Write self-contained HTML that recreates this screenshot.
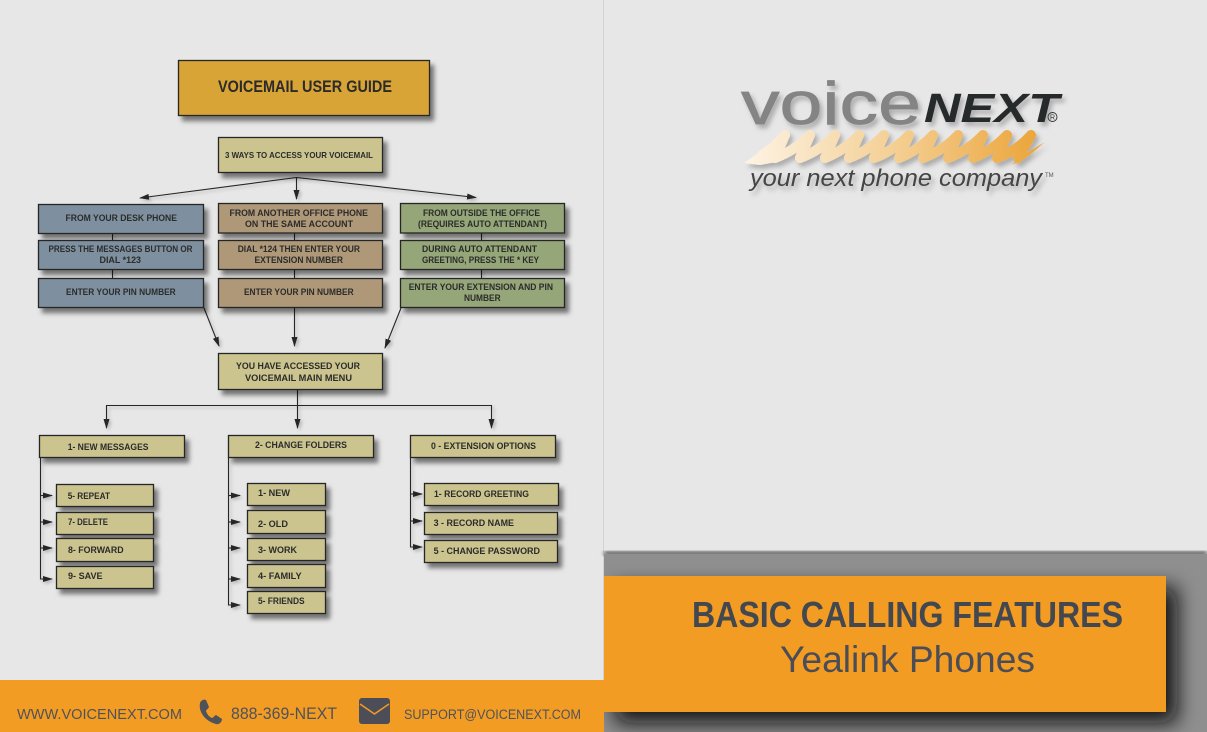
<!DOCTYPE html>
<html><head><meta charset="utf-8"><style>
html,body{margin:0;padding:0;background:#e7e7e7}
svg{display:block}
text{font-family:"Liberation Sans",sans-serif}
.t text{font-weight:bold;font-size:9px;fill:#2b2b2b;stroke:none}
.b rect{stroke:#262626;stroke-width:1.3}
</style></head><body>
<svg width="1207" height="732" viewBox="0 0 1207 732" xmlns="http://www.w3.org/2000/svg">
<defs>
<filter id="s" x="-20%" y="-30%" width="150%" height="180%"><feDropShadow dx="4" dy="5" stdDeviation="2.500" flood-color="#000" flood-opacity=".5"/></filter>
<filter id="l" x="-20%" y="-20%" width="140%" height="140%"><feDropShadow dx="2" dy="2" stdDeviation="1.500" flood-color="#000" flood-opacity=".22"/></filter>
<filter id="big" x="-15%" y="-30%" width="135%" height="170%"><feDropShadow dx="11" dy="11" stdDeviation="10" flood-color="#0c0c0c" flood-opacity=".95"/></filter>
<filter id="logo" x="-10%" y="-20%" width="125%" height="150%"><feDropShadow dx="3" dy="4" stdDeviation="2.500" flood-color="#000" flood-opacity=".25"/></filter>
<filter id="bl"><feGaussianBlur stdDeviation="2"/></filter>
<linearGradient id="w" gradientUnits="userSpaceOnUse" x1="745" y1="0" x2="1045" y2="0"><stop offset="0" stop-color="#fdf3e4"/><stop offset=".5" stop-color="#f4cf93"/><stop offset="1" stop-color="#eba336"/></linearGradient>
<marker id="a" markerWidth="10" markerHeight="6" refX="9" refY="3" orient="auto" markerUnits="userSpaceOnUse"><path d="M0 0L10 3L0 6Z" fill="#262626"/></marker>
</defs>

<rect width="1207" height="732" fill="#e7e7e7"/>
<rect x="603" y="0" width="1" height="680" fill="#d2d2d2"/>

<!-- right band -->
<rect x="604" y="551" width="603" height="5" fill="#5c5c5c" filter="url(#bl)"/>
<rect x="604" y="554" width="603" height="178" fill="#908f90"/>
<svg x="604" y="554" width="603" height="178"><rect x="0" y="22" width="562" height="136" fill="#f29c24" filter="url(#big)"/></svg>
<rect x="604" y="576" width="562" height="136" fill="#f29c24"/>
<text x="692" y="627" font-size="36" font-weight="bold" fill="#43474f" textLength="431" lengthAdjust="spacingAndGlyphs">BASIC CALLING FEATURES</text>
<text x="780" y="672" font-size="37" fill="#4a4d55" textLength="255" lengthAdjust="spacingAndGlyphs">Yealink Phones</text>

<!-- footer -->
<rect x="0" y="680" width="604" height="52" fill="#f29c24"/>
<text x="17" y="719" font-size="15" fill="#50525a" textLength="165" lengthAdjust="spacingAndGlyphs">WWW.VOICENEXT.COM</text>
<path d="M200 703 C201 700 204 699 206 700 L209 707 C208 709 206 710 206 711 C207 714 209 717 212 718 C213 718 214 716 216 715 L222 719 C222 722 219 725 216 724 C207 722 198 713 200 703Z" fill="#50525a"/>
<text x="231" y="719" font-size="17" fill="#50525a" textLength="106" lengthAdjust="spacingAndGlyphs">888-369-NEXT</text>
<rect x="359" y="698" width="31" height="26" rx="3" fill="#4c4d57"/>
<path d="M360 704L374.500 714L389 704" fill="none" stroke="#f29c24" stroke-width="1.500"/>
<text x="404" y="719" font-size="13.500" fill="#50525a" textLength="177" lengthAdjust="spacingAndGlyphs">SUPPORT@VOICENEXT.COM</text>

<!-- logo -->
<g filter="url(#logo)">
<text x="741" y="124" font-size="60" fill="#848484" stroke="#848484" stroke-width=".7" textLength="180" lengthAdjust="spacingAndGlyphs">voice</text>
<text x="924" y="122" font-size="41" font-weight="bold" font-style="italic" fill="#262a2a" textLength="135" lengthAdjust="spacingAndGlyphs">NEXT</text>
<g fill="url(#w)">
<path d="M744 163 L772 143 L776 162 L760 165 Z"/>
<path d="M1018 158 L1045 142 L1026 158 L1012 165 Z"/>
</g>
<path d="M762 155 Q776 146 785 135 L775 158 Q796 150 810 135 L800 158 Q821 150 835 135 L825 158 Q845 150 859 135 L849 158 Q870 150 884 135 L874 158 Q895 150 909 135 L899 158 Q919 150 933 135 L923 158 Q944 150 958 135 L948 158 Q969 150 983 135 L973 158 Q993 150 1007 135 L997 158 Q1018 150 1031 135 L1018 158" fill="none" stroke="url(#w)" stroke-width="10" stroke-linejoin="round" stroke-linecap="round"/>
</g>
<text x="750" y="186" font-size="24" font-style="italic" fill="#444" textLength="292" lengthAdjust="spacingAndGlyphs" filter="url(#logo)">your next phone company</text>
<text x="1045" y="177" font-size="6" fill="#555">TM</text>
<circle cx="1052.500" cy="117" r="4.500" fill="none" stroke="#333" stroke-width=".9"/>
<text x="1050" y="119.500" font-size="7" fill="#333">R</text>

<!-- connectors -->
<g filter="url(#l)" stroke="#262626" stroke-width="1.100" fill="none">
<path d="M296.500 177.500L140 198" marker-end="url(#a)"/>
<path d="M296.500 177.500L476 197.500" marker-end="url(#a)"/>
<path d="M296.500 177.500V199" marker-end="url(#a)"/>
<path d="M112.500 233V241M112.500 269V279M294.500 233V241M294.500 269V279M481.500 233V241M481.500 269V279"/>
<path d="M204 308L219 346" marker-end="url(#a)"/>
<path d="M294.500 308V346" marker-end="url(#a)"/>
<path d="M401 308L385 348" marker-end="url(#a)"/>
<path d="M297.500 389V428" marker-end="url(#a)"/>
<path d="M297.500 405.500H106.500V428" marker-end="url(#a)"/>
<path d="M297.500 405.500H491.500V428" marker-end="url(#a)"/>
<path d="M40.500 457V579H52" marker-end="url(#a)"/>
<path d="M40 495.500H52" marker-end="url(#a)"/>
<path d="M40 522H52" marker-end="url(#a)"/>
<path d="M40 548H52" marker-end="url(#a)"/>
<path d="M228.500 457V605H240" marker-end="url(#a)"/>
<path d="M228 495.500H240" marker-end="url(#a)"/>
<path d="M228 522H240" marker-end="url(#a)"/>
<path d="M228 548H240" marker-end="url(#a)"/>
<path d="M228 579H240" marker-end="url(#a)"/>
<path d="M410.500 457V547H422" marker-end="url(#a)"/>
<path d="M410 494H422" marker-end="url(#a)"/>
<path d="M410 521H422" marker-end="url(#a)"/>
</g>

<!-- boxes -->
<g class="b" filter="url(#s)">
<rect x="178.500" y="60.500" width="251" height="55" fill="#d8a436"/>
<g fill="#ccc48f">
<rect x="218.500" y="137.500" width="164" height="35"/>
<rect x="218.500" y="353.500" width="164" height="36"/>
<rect x="39.500" y="435.500" width="145" height="22"/>
<rect x="228.500" y="435.500" width="145" height="22"/>
<rect x="410.500" y="435.500" width="145" height="22"/>
<rect x="56.500" y="484.500" width="97" height="22"/>
<rect x="56.500" y="512.500" width="97" height="22"/>
<rect x="56.500" y="538.500" width="97" height="23"/>
<rect x="56.500" y="566.500" width="97" height="22"/>
<rect x="247.500" y="483.500" width="78" height="22"/>
<rect x="247.500" y="510.500" width="78" height="23"/>
<rect x="247.500" y="538.500" width="78" height="22"/>
<rect x="247.500" y="564.500" width="78" height="23"/>
<rect x="247.500" y="591.500" width="78" height="22"/>
<rect x="424.500" y="483.500" width="134" height="22"/>
<rect x="424.500" y="512.500" width="133" height="22"/>
<rect x="424.500" y="540.500" width="133" height="22"/>
</g>
<g fill="#7e909f">
<rect x="38.500" y="204.500" width="165" height="29"/>
<rect x="38.500" y="240.500" width="165" height="29"/>
<rect x="38.500" y="278.500" width="165" height="29"/>
</g>
<g fill="#ae9877">
<rect x="218.500" y="203.500" width="164" height="29.500"/>
<rect x="218.500" y="240.500" width="164" height="29"/>
<rect x="218.500" y="278.500" width="164" height="29"/>
</g>
<g fill="#95a678">
<rect x="400.500" y="203.500" width="164" height="29.500"/>
<rect x="400.500" y="240.500" width="164" height="29"/>
<rect x="400.500" y="278.500" width="164" height="29"/>
</g>
</g>

<!-- labels -->
<g class="t">
<text x="218" y="92" style="font-size:17px" textLength="174" lengthAdjust="spacingAndGlyphs">VOICEMAIL USER GUIDE</text>
<text x="225" y="158" style="font-size:8.500px" textLength="148" lengthAdjust="spacingAndGlyphs">3 WAYS TO ACCESS YOUR VOICEMAIL</text>
<text x="65.500" y="221" textLength="111.500" lengthAdjust="spacingAndGlyphs">FROM YOUR DESK PHONE</text>
<text x="229.500" y="216" textLength="138.500" lengthAdjust="spacingAndGlyphs">FROM ANOTHER OFFICE PHONE</text>
<text x="245" y="227" textLength="108" lengthAdjust="spacingAndGlyphs">ON THE SAME ACCOUNT</text>
<text x="423" y="216" textLength="117" lengthAdjust="spacingAndGlyphs">FROM OUTSIDE THE OFFICE</text>
<text x="418" y="227" textLength="129" lengthAdjust="spacingAndGlyphs">(REQUIRES AUTO ATTENDANT)</text>
<text x="48.500" y="252" textLength="144" lengthAdjust="spacingAndGlyphs">PRESS THE MESSAGES BUTTON OR</text>
<text x="99.500" y="263" textLength="41.500" lengthAdjust="spacingAndGlyphs">DIAL *123</text>
<text x="237.700" y="252" textLength="122.300" lengthAdjust="spacingAndGlyphs">DIAL *124 THEN ENTER YOUR</text>
<text x="254.500" y="263" textLength="88.500" lengthAdjust="spacingAndGlyphs">EXTENSION NUMBER</text>
<text x="422" y="252" textLength="115" lengthAdjust="spacingAndGlyphs">DURING AUTO ATTENDANT</text>
<text x="422" y="263" textLength="117" lengthAdjust="spacingAndGlyphs">GREETING, PRESS THE * KEY</text>
<text x="66" y="295" textLength="109.700" lengthAdjust="spacingAndGlyphs">ENTER YOUR PIN NUMBER</text>
<text x="244" y="295" textLength="109.600" lengthAdjust="spacingAndGlyphs">ENTER YOUR PIN NUMBER</text>
<text x="408.700" y="290" textLength="144.300" lengthAdjust="spacingAndGlyphs">ENTER YOUR EXTENSION AND PIN</text>
<text x="464" y="301" textLength="36.600" lengthAdjust="spacingAndGlyphs">NUMBER</text>
<text x="236" y="369" textLength="124" lengthAdjust="spacingAndGlyphs">YOU HAVE ACCESSED YOUR</text>
<text x="245" y="381" textLength="107" lengthAdjust="spacingAndGlyphs">VOICEMAIL MAIN MENU</text>
<text x="67.700" y="450" textLength="80.800" lengthAdjust="spacingAndGlyphs">1- NEW MESSAGES</text>
<text x="255" y="448" textLength="92" lengthAdjust="spacingAndGlyphs">2- CHANGE FOLDERS</text>
<text x="431" y="449" textLength="105" lengthAdjust="spacingAndGlyphs">0 - EXTENSION OPTIONS</text>
<text x="67.700" y="499" textLength="42.300" lengthAdjust="spacingAndGlyphs">5- REPEAT</text>
<text x="68" y="525" textLength="40" lengthAdjust="spacingAndGlyphs">7- DELETE</text>
<text x="68" y="553" textLength="55.600" lengthAdjust="spacingAndGlyphs">8- FORWARD</text>
<text x="68" y="579" textLength="34.600" lengthAdjust="spacingAndGlyphs">9- SAVE</text>
<text x="258" y="496" textLength="32" lengthAdjust="spacingAndGlyphs">1- NEW</text>
<text x="258" y="527" textLength="30" lengthAdjust="spacingAndGlyphs">2- OLD</text>
<text x="258" y="553" textLength="39" lengthAdjust="spacingAndGlyphs">3- WORK</text>
<text x="258" y="579" textLength="43.600" lengthAdjust="spacingAndGlyphs">4- FAMILY</text>
<text x="258" y="604" textLength="46.600" lengthAdjust="spacingAndGlyphs">5- FRIENDS</text>
<text x="434" y="497" textLength="95" lengthAdjust="spacingAndGlyphs">1- RECORD GREETING</text>
<text x="433.600" y="526" textLength="80.400" lengthAdjust="spacingAndGlyphs">3 - RECORD NAME</text>
<text x="433.600" y="554" textLength="106.400" lengthAdjust="spacingAndGlyphs">5 - CHANGE PASSWORD</text>
</g>
</svg>
</body></html>
